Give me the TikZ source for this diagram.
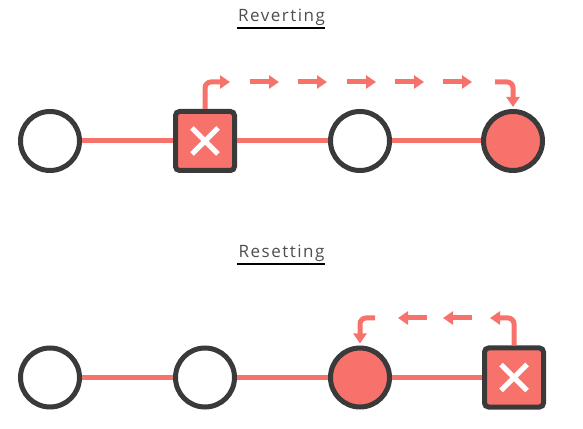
\documentclass[tikz,border=0pt]{standalone}
\usepackage{fontspec}
\newfontfamily\titlefont[LetterSpace=9]{Open Sans}
\usetikzlibrary{arrows.meta,calc}
\definecolor{salmon}{RGB}{248,114,108}
\definecolor{ink}{RGB}{58,58,58}
\definecolor{label}{RGB}{78,78,78}

\begin{document}
\begin{tikzpicture}[x=1pt,y=1pt,
  commit/.style={circle,draw=ink,line width=5pt,minimum size=59pt,inner sep=0pt,fill=white},
  done/.style={commit,fill=salmon},
  bad/.style={rectangle,rounded corners=4pt,draw=ink,line width=5pt,minimum size=59pt,inner sep=0pt,fill=salmon,
    path picture={\draw[white,line width=5pt,sharp corners] ($(path picture bounding box.center)+(-13,-13)$) -- ++(26,26)
      ($(path picture bounding box.center)+(-13,13)$) -- ++(26,-26);}},
  link/.style={salmon,line width=5pt},
  hop/.style={salmon,line width=5pt,rounded corners=6pt,-{Triangle[length=10pt,width=13pt]}},
  title/.style={font=\titlefont\fontsize{17}{20}\selectfont,text=label,anchor=base,inner sep=0pt}]
  \useasboundingbox (0,0) rectangle (583,428);
  % reverting
  \node[title] (rev) at (281.5,406) {Reverting};
  \draw[label,line width=1.4pt] ($(rev.base west)+(-1,-6)$) -- ($(rev.base east)+(0,-6)$);
  \node[commit] (a1) at (50,287) {};
  \node[bad] (a2) at (205,287) {};
  \node[commit] (a3) at (360,287) {};
  \node[done] (a4) at (513,287) {};
  \foreach \u/\v in {a1/a2,a2/a3,a3/a4} \draw[link] (\u) -- (\v);
  \draw[hop] (a2.north) |- (230,346);
  \foreach \x in {250,298,347,395,443} \draw[hop] (\x,346) -- ++(29,0);
  \draw[hop,shorten >=2pt] (495,346) -| (a4.north);
  % resetting
  \node[title] (res) at (281.5,170) {Resetting};
  \draw[label,line width=1.4pt] ($(res.base west)+(-1,-6)$) -- ($(res.base east)+(0,-6)$);
  \node[commit] (b1) at (50,50.5) {};
  \node[commit] (b2) at (205,50.5) {};
  \node[done] (b3) at (360,50.5) {};
  \node[bad] (b4) at (514,50.5) {};
  \foreach \u/\v in {b1/b2,b2/b3,b3/b4} \draw[link] (\u) -- (\v);
  \draw[hop] (b4.north) |- (490,110);
  \foreach \x in {472,427} \draw[hop] (\x,110) -- ++(-29,0);
  \draw[hop,shorten >=2pt] (375,110) -| (b3.north);
\end{tikzpicture}
\end{document}
